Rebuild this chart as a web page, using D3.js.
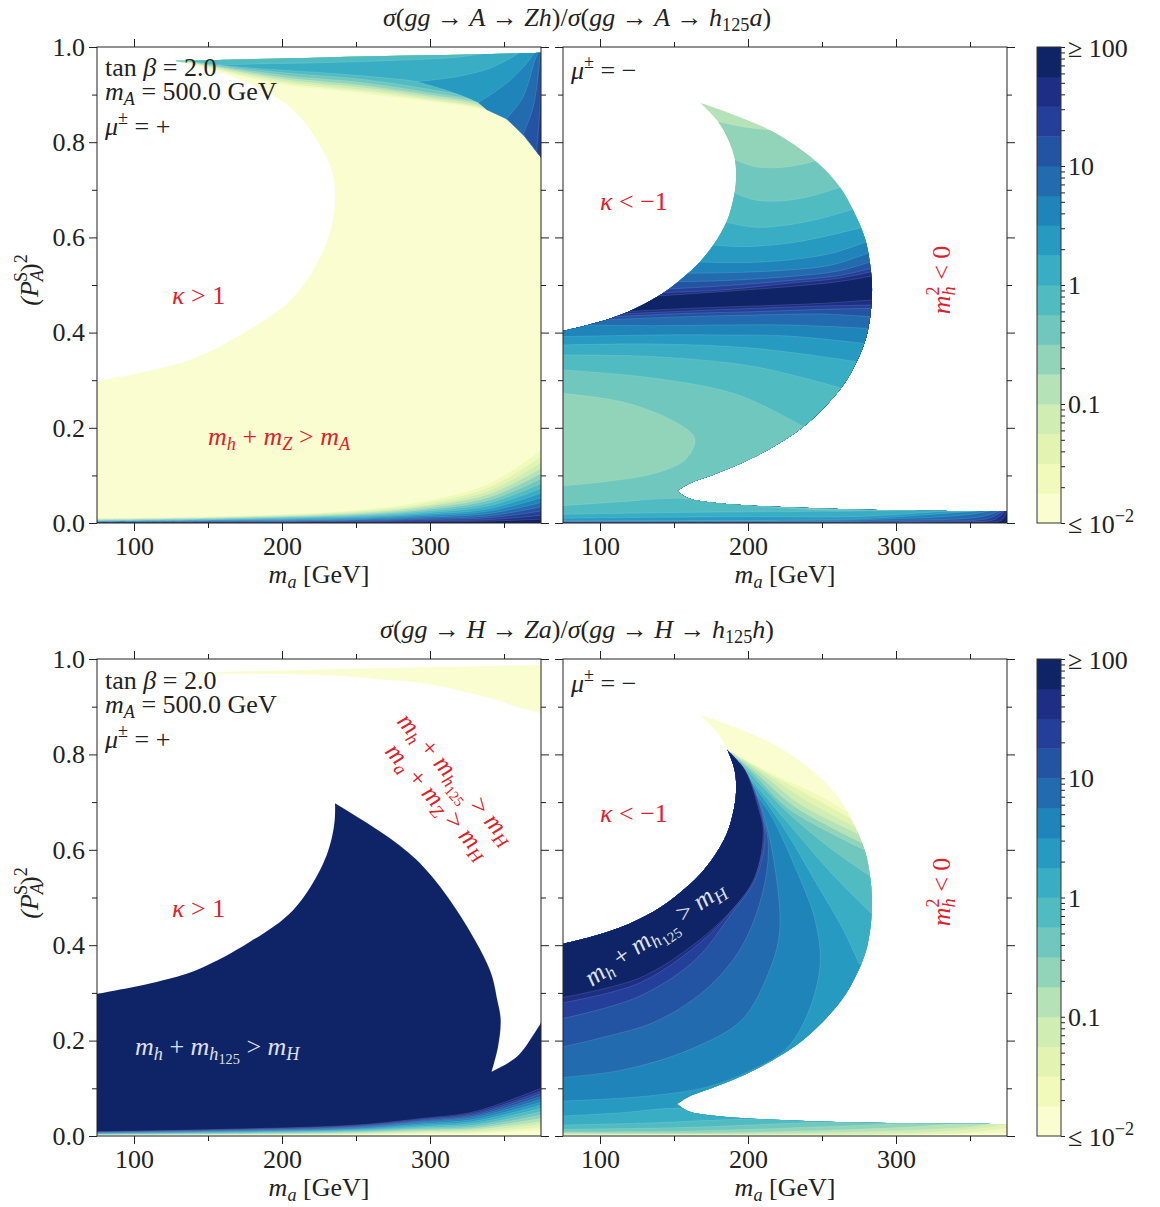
<!DOCTYPE html>
<html>
<head>
<meta charset="utf-8">
<script src="https://cdn.jsdelivr.net/npm/d3@7"></script>
<style>
  body { margin: 0; background: #fff; }
  text { font-family: "Liberation Serif", serif; fill: #222; white-space: pre; }
</style>
</head>
<body>
<svg id="chart" width="1160" height="1207"></svg>
<script>
// colour bands of the colorbar, low to high (0.25 decade each)
var bandColors = ["#fafdcf","#f1fabb","#e3f4b2","#d0edb3","#b5e2b6","#91d4b9","#70c7bd","#50bcc2",
                  "#38adc3","#269ac1","#1e84ba","#216bae","#2354a3","#243f99","#1e2e85","#0f2367"];
var bandEdges = [0.01,0.0178,0.0316,0.0562,0.1,0.178,0.316,0.562,1,1.78,3.16,5.62,10,17.8,31.6,56.2,100];
var barMinor = [0.02,0.03,0.04,0.05,0.06,0.07,0.08,0.09,0.2,0.3,0.4,0.5,0.6,0.7,0.8,0.9,
                2,3,4,5,6,7,8,9,20,30,40,50,60,70,80,90];
var barMajor = [0.01,0.1,1,10,100];

var xMajor = [100,200,300], xMinor = [150,250,350];
var yMajor = [0,0.2,0.4,0.6,0.8,1], yMinor = [0.1,0.3,0.5,0.7,0.9];

// allowed region, mu = +  [ma, P]
var plusInner = [[127.7,.971],[166.9,.937],[198.6,.889],[212.2,.853],[223.4,.805],[233.6,.742],[235.8,.698],[234.7,.641],[227.9,.572],[207.6,.474],[178.4,.407],[142.4,.348],[115.3,.323],[75,.298]];
var plusTop = [[127.7,.971],[170,.974],[227.7,.978],[295.3,.9825],[362.8,.987],[375,.988]];

// allowed region, mu = -
var minusInner = [[167.6,.883],[179.9,.843],[186.7,.805],[191.2,.763],[191.9,.721],[190.5,.686],[185.6,.633],[176.6,.584],[167.6,.549],[159.7,.525],[141.7,.481],[119.1,.444],[96.6,.420],[75,.403]];
var minusOuter = [[152,.067],[159.7,.082],[177.7,.103],[204.7,.139],[237.4,.202],[262.8,.283],[273.4,.339],[279,.381],[281.3,.409],[283.1,.447],[283.8,.496],[282.4,.546],[279,.598],[270.7,.659],[262.2,.705],[245.3,.761],[213.7,.827],[167.6,.883]];
var minusFloor = [[375,.025],[294.8,.027],[227.2,.033],[182.2,.041],[159.7,.052],[152,.067]];

// top row, mu = +: upper contours
var ridge = [[338.3,.8677],[351.8,.848],[363,.815],[375.4,.766]];
var upperMa = [137.8,171.6,205.4,227.9,250.4,295.5,338.3];
var upperLevels = [
  [.9657,.9391,.9188,.9118,.9040,.8872,.8669],
  [.9664,.9419,.9223,.9146,.9076,.8900,.8683],
  [.9671,.9447,.9258,.9181,.9111,.8929,.8704],
  [.9678,.9475,.9300,.9223,.9160,.8970,.8732],
  [.9685,.9503,.9342,.9272,.9209,.9012,.8767],
  [.9692,.9531,.9391,.9328,.9265,.9062,.8802],
  [.9699,.9559,.9447,.9391,.9335,.9132,.8837]
];
var level8Low = [[155.8,.9622],[182.9,.9552],[205.4,.9503],[227.9,.9461],[250.4,.9405],[272.9,.9342],[291,.9272],[318,.9027],[333.7,.8851]];
var level8Top = [[340.5,.988],[318,.9783],[272.9,.9713],[227.9,.9671],[182.9,.9643],[155.8,.9622]];
var level9Low = [[291,.9272],[309,.9111],[332.6,.883]];
var level9Top = [[360.8,.988],[340.5,.9552],[318,.9377],[291,.9272]];
var rightLevels = [
  [[332.6,.883],[351.8,.9237],[365.3,.9657],[370.9,.9902]],
  [[351.8,.8494],[363,.8956],[370.9,.9727],[373.2,.9902]],
  [[363,.8165],[369.8,.8746],[373.2,.9447],[374.7,.99]],
  [[372,.7801],[374.3,.8746],[375.2,.99]]
];

// lower contours of the mu = + panels
var lowMaTop = [75,160,250,295,340,375];
var lowTop = [
  [.0098,.0145,.027,.045,.083,.153],
  [.009,.0135,.025,.041,.075,.140],
  [.0082,.0125,.023,.037,.068,.127],
  [.0074,.0115,.021,.034,.061,.115],
  [.0066,.0105,.019,.030,.054,.104],
  [.0058,.0095,.017,.027,.048,.093],
  [.005,.0085,.015,.024,.042,.083],
  [.0044,.0075,.013,.021,.036,.073],
  [.0038,.0065,.011,.018,.030,.063],
  [.0032,.0055,.009,.015,.025,.053],
  [.0026,.0045,.0075,.012,.020,.043],
  [.002,.0035,.006,.0095,.015,.034],
  [.0016,.0025,.0045,.007,.011,.025],
  [.0012,.0015,.003,.0045,.007,.016],
  [.0008,.001,.0015,.002,.004,.008]
];
var lowMaBottom = [75,160,250,295,330,375];
var lowBottom = [ // colour 14 down to colour 0
  [.009,.0139,.023,.037,.051,.100],
  [.0083,.013,.0215,.035,.048,.094],
  [.0076,.012,.020,.033,.045,.089],
  [.0069,.011,.0185,.031,.042,.083],
  [.0062,.010,.017,.029,.039,.077],
  [.0055,.009,.015,.026,.035,.071],
  [.0048,.008,.0135,.023,.031,.065],
  [.0041,.007,.012,.020,.027,.058],
  [.0035,.006,.0105,.0175,.023,.051],
  [.003,.005,.009,.015,.0195,.044],
  [.0025,.004,.0075,.0125,.016,.037],
  [.002,.0033,.006,.010,.013,.030],
  [.0016,.0026,.0045,.008,.010,.024],
  [.0012,.002,.003,.006,.007,.018],
  [.0008,.0014,.002,.004,.005,.012]
];

// top row, mu = -: colours 5..15 from the top
var minusUp = [
  [[180,.843],[195.7,.8327],[213.7,.8257]],
  [[191.2,.7626],[204.7,.7486],[220.5,.7465],[234,.7521],[246.4,.7612]],
  [[191.2,.6926],[204.7,.6786],[222.7,.6765],[243,.687],[262.1,.7052]],
  [[185.6,.6317],[204.7,.6212],[227.2,.6261],[249.8,.6401],[270.7,.659]],
  [[176.6,.5841],[195.7,.5806],[227.2,.5876],[254.3,.6037],[279,.6226]],
  [[168,.5483],[195.7,.5469],[227.2,.5525],[256.5,.5666],[280.2,.5911]],
  [[159.7,.5245],[195.7,.5266],[227.2,.5315],[256.5,.542],[282,.5679]],
  [[151.8,.507],[182.2,.5091],[227.2,.5175],[261,.5294],[283.1,.549]],
  [[145,.4916],[182.2,.4979],[227.2,.5091],[261,.5196],[283.5,.535]],
  [[141.7,.4839],[182.2,.4895],[227.2,.5035],[261,.514],[283.5,.528]],
  [[138.3,.4769],[182.2,.486],[227.2,.4965],[261,.507],[284,.5189]]
];
// colours 14..6 going down
var minusDown = [
  [[118,.444],[159.7,.451],[204.7,.4559],[249.8,.4615],[283.5,.4685]],
  [[112.4,.4391],[159.7,.4454],[204.7,.451],[249.8,.4559],[283.5,.458]],
  [[107.9,.4335],[159.7,.4405],[204.7,.444],[249.8,.4489],[283.5,.451]],
  [[101.1,.4265],[159.7,.4335],[204.7,.437],[249.8,.4391],[282.4,.4335]],
  [[87.6,.416],[137.2,.4146],[182.2,.416],[227.2,.416],[281.3,.409]],
  [[75,.3915],[137.2,.395],[182.2,.395],[227.2,.3929],[277.9,.3775]],
  [[75,.374],[137.2,.3761],[204.7,.367],[273.4,.339]],
  [[75,.353],[137.2,.3495],[204.7,.3285],[263.3,.283]],
  [[75,.3215],[137.2,.304],[193.5,.269],[237.4,.2024]]
];
var minusPocket = [[75,.2724],[114.6,.2549],[143.9,.2234],[161.9,.1884],[164.2,.1709],[157.4,.1324],[137.2,.1044],[103.4,.0869],[75,.0785]];
// colours 7..15 along the floor
var minusFloorLevels = [
  [[75,.0364],[114.6,.0448],[152.9,.0518],[204.7,.0357],[249.8,.0273]],
  [[75,.0182],[159.7,.0224],[249.8,.0245],[303.8,.0259]],
  [[75,.0098],[137.2,.0119],[204.7,.0133],[272.3,.0133],[328.6,.0238]],
  [[75,.0049],[159.7,.0049],[272.3,.0084],[339.8,.0217],[357.9,.0259]],
  [[75,.0035],[159.7,.0042],[272.3,.0063],[346.6,.0168],[364.6,.0259]],
  [[75,.0028],[182.2,.0028],[294.8,.0049],[357.9,.0133],[370.2,.0259]],
  [[75,.0021],[204.7,.0021],[317.3,.0035],[362.4,.0098],[372.5,.0259]],
  [[75,.0014],[227.2,.0014],[339.8,.0028],[366.9,.0077],[373.6,.0259]],
  [[75,.0007],[249.8,.0007],[351.1,.0014],[371.4,.0063],[375,.0259]]
];

// bottom row, mu = +
var sliverLow = [[127.7,.9686],[227.9,.9665],[272.9,.956],[295.5,.949],[318,.935],[340.5,.918],[358.5,.90],[375.4,.886]];
var blockArc = [[235.8,.6975],[273,.624],[295.5,.5646],[318,.4738],[340.5,.348],[345.5,.285],[347.8,.243],[346,.187],[341.7,.135]];
var blockWedge = [[341.7,.135],[358.6,.166],[369.8,.212],[375.5,.24]];

// bottom row, mu = -: fan out of the cusp, colours 1..9 end on the outer edge
var cusp = [185.6,.8105];
var fanOuter = [
  [[218.2,.7567],[247.5,.7148],[270.7,.6728]],
  [[216,.7567],[245.3,.7078],[273.4,.6589]],
  [[213.7,.7567],[240.8,.7008],[275,.6449]],
  [[210.3,.7567],[236.2,.6938],[276.3,.6309]],
  [[207,.7567],[231.7,.6903],[277.9,.6134]],
  [[203.6,.7602],[227.2,.6868],[279,.5995]],
  [[202.5,.7567],[225,.6833],[254.3,.6064],[283.1,.5435]],
  [[202.5,.7462],[227.2,.6554],[256.5,.5505],[283.5,.4666]],
  [[204.7,.7323],[225,.6414],[247.5,.5226],[263.3,.4387],[275,.3618]]
];
// colours 10..15 end on the left edge
var fanLeft = [
  [[207,.7113],[216,.6694],[231.7,.5645],[245.3,.4527],[248.6,.3548],[238.5,.243],[225,.1803],[202.5,.1383],[173.2,.1034],[132.7,.0839],[75,.0733]],
  [[198,.7672],[210.3,.6763],[219.4,.5365],[221.2,.4247],[213.7,.3408],[195.7,.243],[159.7,.1801],[114.6,.1381],[75,.1227]],
  [[198,.7672],[209.2,.6763],[213.7,.6134],[210.3,.5156],[195.7,.3967],[171,.3059],[137.2,.2395],[103.4,.208],[75,.187]],
  [[198,.7672],[208.8,.6833],[211.5,.6204],[204.7,.5365],[189,.4666],[164.2,.3688],[125.9,.2919],[75,.2465]],
  [[198,.7672],[208.1,.6833],[211,.6344],[207,.5645],[191.2,.4806],[164.2,.3967],[125.9,.3198],[75,.2793]],
  [[198,.7672],[207.4,.6833],[210.3,.6414],[204.7,.5435],[189,.4736],[159.7,.3932],[125.9,.3303],[75,.2905]]
];
// colours 8 down to 0 along the floor
var fanFloor = [
  [[75,.0419],[114.6,.0489],[152.9,.058],[182.2,.044],[240.8,.0335]],
  [[75,.023],[137.2,.0279],[193.5,.0349],[240.8,.0349]],
  [[75,.0139],[159.7,.0181],[227.2,.0265],[261,.03]],
  [[75,.009],[159.7,.0104],[249.8,.0195],[317.3,.0279]],
  [[75,.0069],[182.2,.0069],[272.3,.0139],[328.6,.023],[339.8,.0265]],
  [[75,.0048],[204.7,.0048],[294.8,.0104],[351.1,.0195],[362.4,.0251]],
  [[75,.0034],[227.2,.0034],[317.3,.0069],[357.9,.016],[375,.0251]],
  [[75,.002],[249.8,.002],[339.8,.0041],[375,.016]],
  [[75,.001],[272.3,.0014],[375,.0069]]
];

var svg = d3.select("#chart");
var labelSize = 26;
var red = "#e0202a";

// writes math as tspans: r roman, i italic, b sub, c roman sub, d subsub, p sup
var mathStyles = {
  r: {},
  i: {italic: true},
  b: {italic: true, scale: 0.7, shift: 0.2},
  c: {scale: 0.7, shift: 0.2},
  d: {scale: 0.55, shift: 0.36},
  p: {scale: 0.7, shift: -0.42},
  q: {italic: true, scale: 0.7, shift: -0.42}
};
function math(parent, x, y, segs, opt) {
  opt = opt || {};
  var size = opt.size || labelSize;
  var t = parent.append("text")
      .attr("text-anchor", opt.anchor || "start")
      .attr("font-size", size);
  if (opt.rotate !== undefined) t.attr("transform", "translate(" + x + "," + y + ") rotate(" + opt.rotate + ")");
  else t.attr("x", x).attr("y", y);
  if (opt.fill) t.style("fill", opt.fill);
  if (opt.spacing) t.style("letter-spacing", opt.spacing + "px");
  var prev = 0;
  segs.forEach(function(s) {
    var st = mathStyles[s[1] || "r"], shift = (st.shift || 0) * size;
    var sp = t.append("tspan")
        .attr("font-size", size * (st.scale || 1))
        .attr("dy", shift - prev)
        .text(s[0]);
    if (st.italic) sp.attr("font-style", "italic");
    if (s[2]) sp.attr("dx", s[2]);
    prev = shift;
  });
  return t;
}

function makePanel(id, x0, y0, h, showY) {
  var x = d3.scaleLinear().domain([75, 375]).range([x0, x0 + 444]);
  var y = d3.scaleLinear().domain([0, 1]).range([y0 + h, y0]);
  var line = d3.line().x(function(d) { return x(d[0]); }).y(function(d) { return y(d[1]); })
      .curve(d3.curveCatmullRom.alpha(0.5));
  var p = {id: id, x: x, y: y, x0: x0, y0: y0, h: h, showY: showY};
  p.seg = function(pts) { return line(pts); };
  p.more = function(pts) { return line(pts).replace(/^M/, "L"); };
  p.to = function(pts) { return pts.map(function(d) { return "L" + x(d[0]) + "," + y(d[1]); }).join(""); };
  p.below = function(c) { return p.seg(c) + p.to([[400, c[c.length-1][1]], [400,-0.05], [60,-0.05], [60, c[0][1]]]) + "Z"; };
  p.above = function(c) { return p.seg(c) + p.to([[400, c[c.length-1][1]], [400,1.05], [60,1.05], [60, c[0][1]]]) + "Z"; };
  return p;
}

function openRegion(p, d) {
  svg.append("clipPath").attr("id", "clip" + p.id).append("path").attr("d", d);
  p.g = svg.append("g").attr("clip-path", "url(#clip" + p.id + ")");
}
function fill(p, d, c) {
  p.g.append("path").attr("d", d).attr("fill", bandColors[c])
     .attr("stroke", "#fff").attr("stroke-opacity", 0.25).attr("stroke-width", 0.5);
}
function withMa(ma, vals) { return ma.map(function(m, i) { return [m, vals[i]]; }); }

function plusRegion(p) {
  return p.seg(plusTop) + p.to([[375,0],[75,0]]) + p.to([[75,.298]]) + p.more(plusInner.slice().reverse()) + "Z";
}
function minusRegion(p) {
  return p.seg(minusInner) + p.to([[75,0],[375,0]]) + p.to([[375,.025]]) + p.more(minusFloor) + p.more(minusOuter) + "Z";
}

function frame(p) {
  var x = p.x, y = p.y, b = p.y0 + p.h, r = p.x0 + 444;
  function put(axis, tx, ty) {
    var g = svg.append("g").attr("transform", "translate(" + tx + "," + ty + ")").call(axis);
    g.select(".domain").remove();
    g.selectAll("line").attr("stroke", "#222").attr("stroke-width", 1);
    return g;
  }
  var none = function() { return ""; };
  put(d3.axisBottom(x).tickValues(xMajor).tickSize(8).tickPadding(5).tickFormat(d3.format("d")), 0, b)
    .selectAll("text").attr("font-size", labelSize).attr("font-family", null).attr("dy", "0.72em");
  put(d3.axisBottom(x).tickValues(xMinor).tickSize(5).tickFormat(none), 0, b);
  put(d3.axisTop(x).tickValues(xMajor).tickSize(8).tickFormat(none), 0, p.y0);
  put(d3.axisTop(x).tickValues(xMinor).tickSize(5).tickFormat(none), 0, p.y0);
  var left = d3.axisLeft(y).tickValues(yMajor).tickSize(8).tickPadding(4);
  left.tickFormat(p.showY ? d3.format(".1f") : none);
  put(left, p.x0, 0).selectAll("text").attr("font-size", labelSize).attr("font-family", null);
  put(d3.axisLeft(y).tickValues(yMinor).tickSize(5).tickFormat(none), p.x0, 0);
  put(d3.axisRight(y).tickValues(yMajor).tickSize(8).tickFormat(none), r, 0);
  put(d3.axisRight(y).tickValues(yMinor).tickSize(5).tickFormat(none), r, 0);
  svg.append("rect").attr("x", p.x0).attr("y", p.y0).attr("width", 444).attr("height", p.h)
     .attr("fill", "none").attr("stroke", "#222").attr("stroke-width", 1);
  math(svg, p.x0 + 222, b + 60, [["m","i"],["a","b"],[" [GeV]"]], {anchor: "middle"});
}

function colorbar(y0, h) {
  var s = d3.scaleLog().domain([0.01, 100]).range([y0 + h, y0]);
  var g = svg.append("g");
  g.selectAll("rect").data(bandColors).enter().append("rect")
    .attr("x", 1037).attr("width", 24)
    .attr("y", function(d, i) { return s(bandEdges[i + 1]); })
    .attr("height", function(d, i) { return s(bandEdges[i]) - s(bandEdges[i + 1]) + 0.4; })
    .attr("fill", function(d) { return d; });
  var ax = svg.append("g").attr("transform", "translate(1061,0)")
    .call(d3.axisRight(s).tickValues(barMinor.concat(barMajor)).tickSize(4).tickFormat(function() { return ""; }));
  ax.select(".domain").remove();
  ax.selectAll("line").attr("stroke", "#222");
  svg.append("rect").attr("x", 1037).attr("y", y0).attr("width", 24).attr("height", h)
     .attr("fill", "none").attr("stroke", "#333").attr("stroke-width", 1);
  math(svg, 1068, s(100) + 10, [["≥ 100"]]);
  math(svg, 1068, s(10) + 9, [["10"]]);
  math(svg, 1068, s(1) + 9, [["1"]]);
  math(svg, 1068, s(0.1) + 9, [["0.1"]]);
  math(svg, 1068, s(0.01) + 10, [["≤ 10"],["−2","p"]]);
}

function yLabel(cy) {
  math(svg, 38, cy, [["(P","i"],["A","b"],["S","p","-12"],[")"],["2","p"]], {rotate: -90, anchor: "middle"});
}

function infoLeft(dy) {
  math(svg, 105, 76 + dy, [["tan "],["β","i"],[" = 2.0"]]);
  math(svg, 105, 100 + dy, [["m","i"],["A","b"],[" = 500.0 GeV"]]);
  math(svg, 105, 135 + dy, [["μ","i"],["±","p"],[" = +"]]);
}

// ---- top row, mu = +
var p1 = makePanel("a", 97, 47, 476, true);
openRegion(p1, plusRegion(p1));
p1.g.append("rect").attr("x", 90).attr("y", 40).attr("width", 460).attr("height", 490).attr("fill", bandColors[0]);
upperLevels.forEach(function(v, i) {
  var c = withMa(upperMa, v).concat(ridge.slice(1));
  fill(p1, p1.above(c), i + 1);
});
fill(p1, p1.seg(level8Low.concat(ridge.slice(1))) + p1.to([[400,.74],[400,1.05],[340.5,1.05]]) + p1.more(level8Top) + "Z", 8);
fill(p1, p1.seg(level9Low.concat(ridge.slice(1))) + p1.to([[400,.74],[400,1.05],[360.8,1.05]]) + p1.more(level9Top) + "Z", 9);
rightLevels.forEach(function(c, i) {
  var back = ridge.filter(function(d) { return d[0] > c[0][0]; }).reverse();
  fill(p1, p1.seg(c) + p1.to([[400,1.05],[400,.74]].concat(back)) + "Z", i + 10);
});
lowTop.forEach(function(v, i) { fill(p1, p1.below(withMa(lowMaTop, v)), i + 1); });
frame(p1);
infoLeft(0);
math(svg, 172, 304, [["κ","i"],[" > 1"]], {fill: red});
math(svg, 208, 445, [["m","i"],["h","b"],[" + "],["m","i"],["Z","b"],[" > "],["m","i"],["A","b"]], {fill: red});

// ---- top row, mu = -
var p2 = makePanel("b", 563, 47, 476, false);
openRegion(p2, minusRegion(p2));
p2.g.append("rect").attr("x", 555).attr("y", 40).attr("width", 460).attr("height", 490).attr("fill", bandColors[4]);
minusUp.forEach(function(c, i) { fill(p2, p2.below(c), i + 5); });
minusDown.forEach(function(c, i) { fill(p2, p2.below(c), 14 - i); });
fill(p2, p2.seg(minusPocket) + p2.to([[60,.0785],[60,.2724]]) + "Z", 5);
minusFloorLevels.forEach(function(c, i) { fill(p2, p2.below(c), i + 7); });
frame(p2);
math(svg, 571, 79, [["μ","i"],["±","p"],[" = −"]]);
math(svg, 600, 210, [["κ","i"],[" < −1"]], {fill: red});
math(svg, 950, 280, [["m","i"],["h","b"],["2","p","-9"],[" < 0"]], {fill: red, rotate: -90, anchor: "middle"});

colorbar(47, 476);
yLabel(280);
math(svg, 577, 26, [["σ","i"],["("],["gg","i"],[" → "],["A","i"],[" → "],["Zh","i"],[")/"],["σ","i"],["("],["gg","i"],[" → "],["A","i"],[" → "],["h","i"],["125","c"],["a","i"],[")"]], {anchor: "middle"});

// ---- bottom row, mu = +
var p3 = makePanel("c", 97, 659, 477, true);
openRegion(p3, plusRegion(p3));
fill(p3, p3.above(sliverLow), 0);
fill(p3, p3.seg(blockArc) + p3.more(blockWedge) + p3.to([[400,.24],[400,-.05],[60,-.05],[60,.6975]]) + "Z", 15);
lowBottom.forEach(function(v, i) { fill(p3, p3.below(withMa(lowMaBottom, v)), 14 - i); });
frame(p3);
infoLeft(613);
math(svg, 172, 917, [["κ","i"],[" > 1"]], {fill: red});
math(svg, 135, 1055, [["m","i"],["h","b"],[" + "],["m","i"],["h","b"],["125","d"],[" > "],["m","i"],["H","b"]], {fill: "#dfe1ea"});
math(svg, 396, 722, [["m","i"],["h","b"],[" + "],["m","i"],["h","b"],["125","d"],[" > "],["m","i"],["H","b"]], {fill: red, rotate: 49});
math(svg, 384, 752, [["m","i"],["a","b"],[" + "],["m","i"],["Z","b"],[" > "],["m","i"],["H","b"]], {fill: red, rotate: 49});

// ---- bottom row, mu = -
var p4 = makePanel("d", 563, 659, 477, false);
openRegion(p4, minusRegion(p4));
p4.g.append("rect").attr("x", 555).attr("y", 650).attr("width", 460).attr("height", 495).attr("fill", bandColors[0]);
fanOuter.forEach(function(c, i) {
  var pts = [cusp].concat(c), last = c[c.length - 1];
  fill(p4, p4.seg(pts) + p4.to([[400,last[1]],[400,-.05],[60,-.05],[60,cusp[1]]]) + "Z", i + 1);
});
fanLeft.forEach(function(c, i) {
  var pts = [cusp].concat(c);
  fill(p4, p4.seg(pts) + p4.to([[60,c[c.length-1][1]],[60,cusp[1]]]) + "Z", i + 10);
});
fanFloor.forEach(function(c, i) { fill(p4, p4.below(c), 8 - i); });
frame(p4);
math(svg, 571, 692, [["μ","i"],["±","p"],[" = −"]]);
math(svg, 600, 822, [["κ","i"],[" < −1"]], {fill: red});
math(svg, 950, 892, [["m","i"],["h","b"],["2","p","-9"],[" < 0"]], {fill: red, rotate: -90, anchor: "middle"});
math(svg, 592, 987, [["m","i"],["h","b"],[" + "],["m","i"],["h","b"],["125","d"],[" > "],["m","i"],["H","b"]], {fill: "#dfe1ea", rotate: -35});

colorbar(659, 477);
yLabel(893);
math(svg, 577, 638, [["σ","i"],["("],["gg","i"],[" → "],["H","i"],[" → "],["Za","i"],[")/"],["σ","i"],["("],["gg","i"],[" → "],["H","i"],[" → "],["h","i"],["125","c"],["h","i"],[")"]], {anchor: "middle"});
</script>
</body>
</html>
